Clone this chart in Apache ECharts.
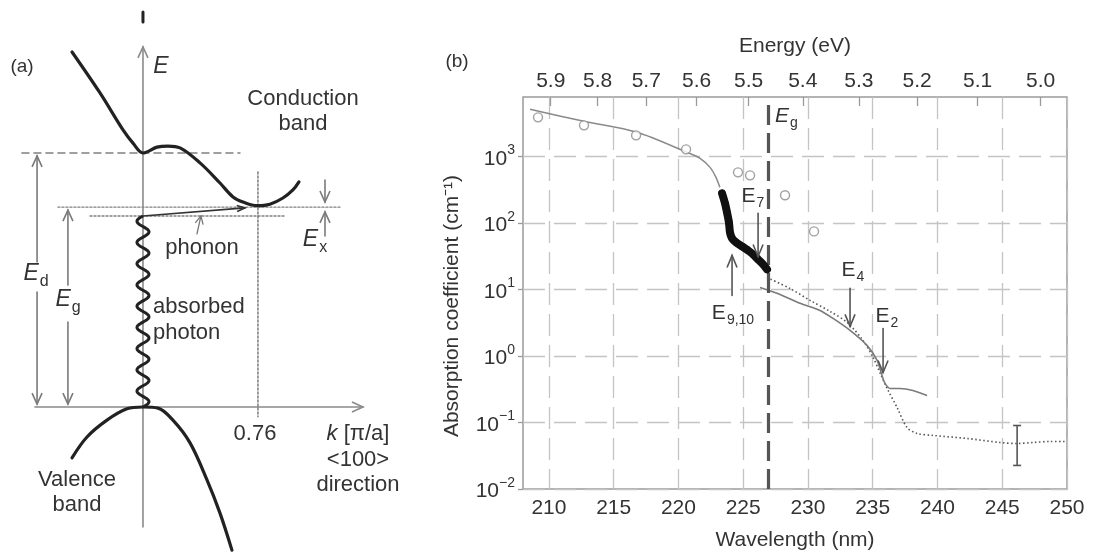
<!DOCTYPE html>
<html>
<head>
<meta charset="utf-8">
<script src="https://cdn.jsdelivr.net/npm/echarts@6/dist/echarts.min.js"></script>
<style>
  html, body { margin: 0; padding: 0; background: #fff; }
  #chart { width: 1093px; height: 555px; }
</style>
</head>
<body>
<div id="chart"></div>
<script>
// ---------- Panel (a): band diagram (k in units of pi/a, E in eV) ----------
const conductionBand = [[-0.469, 9.70], [-0.284, 8.58], [-0.132, 7.57], [-0.066, 7.21], [0, 6.94],
  [0.093, 7.10], [0.165, 7.13], [0.245, 7.08], [0.377, 6.67], [0.509, 6.12], [0.595, 5.74],
  [0.674, 5.58], [0.753, 5.50], [0.839, 5.54], [0.925, 5.71], [0.991, 5.93], [1.031, 6.15]];
const valenceBand = [[-0.469, -1.39], [-0.370, -0.82], [-0.238, -0.36], [-0.106, -0.05], [0, 0],
  [0.099, -0.03], [0.198, -0.36], [0.311, -0.98], [0.423, -1.99], [0.509, -2.90], [0.588, -3.91]];
const directGapLine = [[-0.80, 6.94], [0.641, 6.94]];
const indirectGapLine = [[-0.562, 5.46], [1.302, 5.46]];
const excitonLine = [[-0.350, 5.22], [0.939, 5.22]];
const kMinLine = [[0.76, 6.42], [0.76, -0.27]];
const topMark = [[0, 10.52], [0, 10.79]];
// arrows: [x1, y1, x2, y2], head at the second point
const diagramAxes = [[0, -3.28, 0, 9.84], [-0.714, 0, 1.454, 0]];
const gapArrows = [[-0.70, 3.96, -0.70, 6.86], [-0.70, 3.14, -0.70, 0.08],
  [-0.496, 3.33, -0.496, 5.38], [-0.496, 2.32, -0.496, 0.08],
  [1.203, 6.20, 1.203, 5.60], [1.203, 4.67, 1.203, 5.33]];
const phononArrow = [[0, 5.22, 0.674, 5.44]];
const phononPointer = [[0.357, 4.73, 0.383, 5.22]];
// photon: [k, E from, E to, number of waves]
const photonPath = [[0, 0, 5.22, 9]];

// ---------- Panel (b): absorption spectrum ----------
const wavelengthTicks = [210, 215, 220, 225, 230, 235, 240, 245, 250];
const energyTicks = [5.9, 5.8, 5.7, 5.6, 5.5, 5.4, 5.3, 5.2, 5.1, 5.0];
const absorptionTicks = [0.01, 0.1, 1, 10, 100, 1000];
const HC_NM_EV = 1239.84;

const referencePoints = [[209.16, 3855], [212.71, 2925], [216.73, 2070], [220.59, 1275],
  [224.60, 575], [225.53, 518], [228.23, 260], [230.47, 74.5]];
const fitCurve = [[208.54, 5090], [212.71, 3360], [216.80, 2297], [220.66, 1148], [221.67, 933],
  [222.44, 683], [222.90, 483], [223.20, 342]];
const measuredThick = [[223.37, 278], [223.60, 196], [223.75, 144], [223.90, 102], [223.98, 72],
  [224.14, 58.5], [224.45, 51], [224.91, 44.4], [225.37, 38.6], [225.76, 33.6], [226.15, 28.2],
  [226.53, 23.8], [226.84, 20]];
const dottedSpectrum = [[226.84, 15.1], [228.62, 10.3], [230.16, 6.84], [231.71, 4.67], [233.02, 3.19],
  [234.25, 1.71], [235.03, 0.95], [235.72, 0.475], [236.19, 0.303], [236.88, 0.168], [237.65, 0.084],
  [238.42, 0.0684], [239.66, 0.0638], [242.29, 0.0575], [244.83, 0.050], [246.15, 0.0483],
  [247.38, 0.050], [248.70, 0.0518], [249.85, 0.0518]];
const solidSpectrum = [[226.30, 10.7], [227.85, 8.4], [229.39, 6.17], [230.93, 4.83], [231.94, 3.66],
  [233.25, 2.42], [234.56, 1.44], [235.34, 0.855], [235.72, 0.509], [235.95, 0.386], [236.34, 0.324],
  [237.10, 0.324], [238.10, 0.303], [239.20, 0.255]];
const bandGapWavelength = 226.9;
// transition arrows: [wavelength, alpha from, wavelength, alpha to]
const transitionArrows = [[226.15, 139, 226.15, 31.3], [224.14, 8.13, 224.14, 32.4],
  [233.25, 10.4, 233.25, 2.78], [235.8, 2.59, 235.8, 0.565]];
// error bar: [wavelength, low, high]
const errorBar = [[246.15, 0.0226, 0.090]];

const FONT = '"Liberation Sans", Arial, Helvetica, sans-serif';
const TEXT = '#333';
const DARK = '#222';

function lineSeries(data, color, width, type, extra) {
  return Object.assign({
    type: 'line', xAxisIndex: 0, yAxisIndex: 0, data, symbol: 'none', silent: true,
    lineStyle: { color, width, type: type || 'solid', cap: 'round', join: 'round' },
    animation: false, z: 3
  }, extra || {});
}

function arrowSeries(xi, yi, data, color, width, headLen, headHalf, z) {
  return {
    type: 'custom', xAxisIndex: xi, yAxisIndex: yi, data, silent: true, animation: false, z: z || 4,
    renderItem(params, api) {
      const p1 = api.coord([api.value(0), api.value(1)]);
      const p2 = api.coord([api.value(2), api.value(3)]);
      const dx = p2[0] - p1[0], dy = p2[1] - p1[1];
      const L = Math.hypot(dx, dy) || 1;
      const ux = dx / L, uy = dy / L;
      const b = [p2[0] - ux * headLen, p2[1] - uy * headLen];
      const l = [b[0] - uy * headHalf, b[1] + ux * headHalf];
      const r = [b[0] + uy * headHalf, b[1] - ux * headHalf];
      return {
        type: 'group', children: [
          { type: 'line', shape: { x1: p1[0], y1: p1[1], x2: p2[0], y2: p2[1] },
            style: { stroke: color, lineWidth: width, lineCap: 'round' } },
          { type: 'polyline', shape: { points: [l, p2, r] },
            style: { stroke: color, lineWidth: width, fill: null, lineJoin: 'miter' } }
        ]
      };
    }
  };
}

function txt(x, y, text, o) {
  o = o || {};
  return {
    type: 'text', x, y, rotation: o.rotation || 0, silent: true, z: 10,
    style: {
      text, fill: o.color || TEXT, fontFamily: FONT, fontSize: o.size || 22,
      fontStyle: o.italic ? 'italic' : 'normal',
      align: o.align || 'center', verticalAlign: o.valign || 'middle',
      lineHeight: o.lineHeight, rich: o.rich
    }
  };
}

// symbol with a subscript
function subRich(size, italic) {
  return {
    m: { fontSize: size, fontStyle: italic ? 'italic' : 'normal', fontFamily: FONT, fill: TEXT,
         verticalAlign: 'top', lineHeight: size + 4 },
    s: { fontSize: Math.round(size * 0.68), fontFamily: FONT, fill: TEXT,
         verticalAlign: 'bottom', lineHeight: Math.round(size * 0.68), padding: [Math.round(size * 0.6), 0, 0, 1] }
  };
}

const chart = echarts.init(document.getElementById('chart'), null, { renderer: 'canvas' });

const option = {
  backgroundColor: '#fff',
  animation: false,
  grid: [
    { left: 0, top: 0, width: 420, height: 555, show: false, outerBoundsMode: 'none' },
    { left: 523, top: 97, right: 26, bottom: 66, show: true, borderColor: '#9a9a9a', borderWidth: 1.5,
      outerBoundsMode: 'none' }
  ],
  xAxis: [
    { gridIndex: 0, type: 'value', min: -0.945, max: 1.831, show: false },
    {
      gridIndex: 1, type: 'value', min: 208, max: 250, splitNumber: 8, position: 'bottom',
      axisLine: { show: false }, axisTick: { show: false, customValues: wavelengthTicks },
      axisLabel: { customValues: wavelengthTicks, fontSize: 21, color: TEXT, fontFamily: FONT, margin: 9 },
      splitLine: { show: true, lineStyle: { color: '#c4c4c4', width: 1.3, type: [22, 9] } },
      name: 'Wavelength (nm)', nameLocation: 'middle', nameGap: 41,
      nameTextStyle: { fontSize: 21, color: TEXT, fontFamily: FONT }
    },
    {
      gridIndex: 1, type: 'value', min: 208, max: 250, position: 'top',
      axisLine: { show: false }, splitLine: { show: false },
      axisTick: { show: true, inside: true, length: 9, customValues: energyTicks.map(e => HC_NM_EV / e),
        lineStyle: { color: '#9a9a9a', width: 1.3 } },
      axisLabel: { customValues: energyTicks.map(e => HC_NM_EV / e), fontSize: 21, color: TEXT,
        fontFamily: FONT, margin: 5, formatter: v => (HC_NM_EV / v).toFixed(1) },
      name: 'Energy (eV)', nameLocation: 'middle', nameGap: 40,
      nameTextStyle: { fontSize: 21, color: TEXT, fontFamily: FONT }
    }
  ],
  yAxis: [
    { gridIndex: 0, type: 'value', min: -4.044, max: 11.12, show: false },
    {
      gridIndex: 1, type: 'log', logBase: 10, min: 0.01, max: 7800,
      axisLine: { show: false },
      axisTick: { show: true, length: 5, customValues: absorptionTicks, lineStyle: { color: '#9a9a9a', width: 1.3 } },
      axisLabel: {
        customValues: absorptionTicks, margin: 8,
        formatter: v => {
          const e = Math.round(Math.log10(v));
          return '{b|10}{s|' + (e < 0 ? '\u2212' + (-e) : e) + '}';
        },
        rich: {
          b: { fontSize: 21, color: TEXT, fontFamily: FONT, verticalAlign: 'bottom', lineHeight: 26 },
          s: { fontSize: 14, color: TEXT, fontFamily: FONT, verticalAlign: 'top', lineHeight: 16 }
        }
      },
      splitLine: { show: true, lineStyle: { color: '#c4c4c4', width: 1.3, type: [22, 9] } },
      minorSplitLine: { show: false }
    }
  ],
  series: [
    // ----- panel (a) -----
    arrowSeries(0, 0, diagramAxes, '#8a8a8a', 1.6, 11, 5, 2),
    lineSeries(topMark, DARK, 3),
    lineSeries(directGapLine, '#808080', 1.6, [7, 5]),
    lineSeries(indirectGapLine, '#808080', 1.4, [2, 2]),
    lineSeries(excitonLine, '#808080', 1.4, [2, 2]),
    lineSeries(kMinLine, '#707070', 1.4, [2, 2]),
    lineSeries(conductionBand, DARK, 3.2, 'solid', { smooth: 0.35, z: 5 }),
    lineSeries(valenceBand, DARK, 3.2, 'solid', { smooth: 0.35, z: 5 }),
    arrowSeries(0, 0, gapArrows, '#7a7a7a', 1.6, 11, 5),
    arrowSeries(0, 0, phononArrow, '#333', 1.6, 8, 3),
    arrowSeries(0, 0, phononPointer, '#777', 1.3, 8, 4),
    {
      type: 'custom', xAxisIndex: 0, yAxisIndex: 0, data: photonPath, silent: true, z: 6,
      renderItem(params, api) {
        const a = api.coord([api.value(0), api.value(1)]);
        const b = api.coord([api.value(0), api.value(2)]);
        const waves = api.value(3);
        const amp = 6, n = 360, pts = [];
        for (let i = 0; i <= n; i++) {
          const t = i / n;
          pts.push([a[0] + amp * Math.sin(2 * Math.PI * waves * t), a[1] + (b[1] - a[1]) * t]);
        }
        return { type: 'polyline', shape: { points: pts },
          style: { stroke: DARK, lineWidth: 3, fill: null, lineJoin: 'round' } };
      }
    },
    // ----- panel (b) -----
    {
      type: 'line', xAxisIndex: 1, yAxisIndex: 1, data: fitCurve, symbol: 'none', smooth: 0.3,
      lineStyle: { color: '#8a8a8a', width: 1.5 }, z: 3, silent: true
    },
    {
      type: 'scatter', xAxisIndex: 1, yAxisIndex: 1, data: referencePoints, symbol: 'circle', symbolSize: 9,
      itemStyle: { color: '#fff', borderColor: '#8a8a8a', borderWidth: 1.4 }, z: 4, silent: true
    },
    {
      type: 'line', xAxisIndex: 1, yAxisIndex: 1, data: measuredThick, symbol: 'circle', symbolSize: 7,
      itemStyle: { color: '#111' }, smooth: 0.2,
      lineStyle: { color: '#111', width: 8, cap: 'round', join: 'round' }, z: 6, silent: true
    },
    {
      type: 'line', xAxisIndex: 1, yAxisIndex: 1, data: dottedSpectrum, symbol: 'none', smooth: 0.3,
      lineStyle: { color: '#555', width: 1.6, type: [1.5, 2.5] }, z: 4, silent: true
    },
    {
      type: 'line', xAxisIndex: 1, yAxisIndex: 1, data: solidSpectrum, symbol: 'none', smooth: 0.25,
      lineStyle: { color: '#7a7a7a', width: 1.6 }, z: 4, silent: true,
      markLine: {
        silent: true, symbol: 'none', animation: false, label: { show: false },
        lineStyle: { color: '#555', width: 3.2, type: [20, 8] },
        data: [{ xAxis: bandGapWavelength }]
      }
    },
    arrowSeries(1, 1, transitionArrows, '#555', 1.6, 12, 5, 7),
    {
      type: 'custom', xAxisIndex: 1, yAxisIndex: 1, data: errorBar, silent: true, z: 5,
      renderItem(params, api) {
        const lo = api.coord([api.value(0), api.value(1)]);
        const hi = api.coord([api.value(0), api.value(2)]);
        const c = 4;
        const s = { stroke: '#555', lineWidth: 1.6 };
        return { type: 'group', children: [
          { type: 'line', shape: { x1: lo[0], y1: lo[1], x2: hi[0], y2: hi[1] }, style: s },
          { type: 'line', shape: { x1: lo[0] - c, y1: lo[1], x2: lo[0] + c, y2: lo[1] }, style: s },
          { type: 'line', shape: { x1: hi[0] - c, y1: hi[1], x2: hi[0] + c, y2: hi[1] }, style: s }
        ] };
      }
    }
  ],
  graphic: { elements: [
    // panel (a) labels
    txt(22, 67, '(a)', { size: 19 }),
    txt(161, 67, 'E', { italic: true, size: 23 }),
    txt(303, 111, 'Conduction\nband', { lineHeight: 25 }),
    txt(202, 248, 'phonon'),
    txt(315, 242, '{m|E}{s|x}', { rich: subRich(23, true) }),
    txt(36, 276, '{m|E}{s|d}', { rich: subRich(23, true) }),
    txt(68, 302, '{m|E}{s|g}', { rich: subRich(23, true) }),
    txt(153, 320, 'absorbed\nphoton', { align: 'left', lineHeight: 26 }),
    txt(255, 434, '0.76'),
    txt(358, 434, '{m|k} [\u03c0/a]', { rich: { m: { fontSize: 22, fontStyle: 'italic', fontFamily: FONT, fill: TEXT } } }),
    txt(358, 460, '<100>'),
    txt(358, 485, 'direction'),
    txt(77, 492, 'Valence\nband', { lineHeight: 25 }),
    // panel (b) labels
    txt(457, 62, '(b)', { size: 19 }),
    txt(452, 306, 'Absorption coefficient (cm\u207b\u00b9)', { size: 21, rotation: Math.PI / 2 }),
    txt(775, 118, '{m|E}{s|g}', { align: 'left', rich: subRich(21, true) }),
    txt(753, 198, '{m|E}{s|7}', { rich: subRich(21, false) }),
    txt(733, 315, '{m|E}{s|9,10}', { rich: subRich(21, false) }),
    txt(853, 272, '{m|E}{s|4}', { rich: subRich(21, false) }),
    txt(887, 318, '{m|E}{s|2}', { rich: subRich(21, false) })
  ] }
};

chart.setOption(option);
</script>
</body>
</html>
